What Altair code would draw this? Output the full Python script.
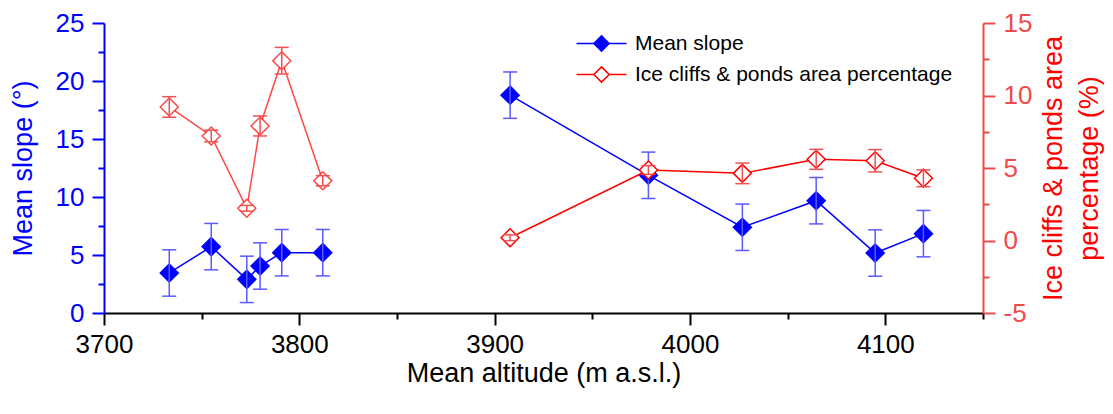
import altair as alt
import pandas as pd

# ---- data ----
altitude = [3733.4, 3754.9, 3773.1, 3779.9, 3791.0, 3812.0, 3907.9, 3978.7, 4026.8, 4064.6, 4094.8, 4119.5]
section = ["a", "a", "a", "a", "a", "a", "b", "b", "b", "b", "b", "b"]
mean_slope = [3.45, 5.72, 2.9, 4.05, 5.2, 5.2, 18.78, 11.87, 7.39, 9.68, 5.17, 6.84]
slope_err = [2.0, 2.0, 2.0, 2.0, 2.0, 2.0, 2.0, 2.0, 2.0, 2.0, 2.0, 2.0]
ice_pct = [9.21, 7.21, 2.22, 7.9, 12.4, 4.12, 0.19, 4.86, 4.63, 5.6, 5.5, 4.29]
ice_err = [0.71, 0.4, 0.2, 0.69, 0.92, 0.35, 0.2, 0.3, 0.71, 0.69, 0.77, 0.58]

S1 = "Mean slope"
S2 = "Ice cliffs & ponds area percentage"

rows = []
for i in range(len(altitude)):
    rows.append({"series": S1, "altitude": altitude[i], "value": mean_slope[i],
                 "lo": mean_slope[i] - slope_err[i], "hi": mean_slope[i] + slope_err[i],
                 "section": section[i]})
for i in range(len(altitude)):
    rows.append({"series": S2, "altitude": altitude[i], "value": ice_pct[i],
                 "lo": ice_pct[i] - ice_err[i], "hi": ice_pct[i] + ice_err[i],
                 "section": section[i]})
df = pd.DataFrame(rows)

FONT = "Liberation Sans"
BLUE = "#0000ff"
BLUE_ERR = "#5a5aff"
RED = "#ff0000"
RED_AX = "#f04a4a"
RED_ERR = "#f25050"

common = dict(labelFont=FONT, titleFont=FONT, titleFontSize=27,
              titleFontWeight="normal", domainWidth=2, tickWidth=2, grid=False,
              labelFlush=False, labelOverlap=False, labelBound=False)

x_axis = alt.Axis(
    title="Mean altitude (m a.s.l.)",
    values=list(range(3700, 4151, 50)),
    labelExpr="datum.value % 100 === 0 ? '' + datum.value : ''",
    tickSize={"condition": {"test": "datum.value % 100 === 0", "value": 12}, "value": 6},
    domainColor="black", tickColor="black", labelColor="black", titleColor="black",
    labelFontSize=26, labelPadding=6, titlePadding=3, **common,
)
x_enc = alt.X("altitude:Q", scale=alt.Scale(domain=[3700, 4150], nice=False, zero=False), axis=x_axis)

left_axis = alt.Axis(
    title="Mean slope (°)", orient="left",
    values=[0, 2.5, 5, 7.5, 10, 12.5, 15, 17.5, 20, 22.5, 25],
    labelExpr="datum.value % 5 === 0 ? '' + datum.value : ''",
    tickSize={"condition": {"test": "datum.value % 5 === 0", "value": 12}, "value": 6},
    domainColor=BLUE, tickColor=BLUE, labelColor=BLUE, titleColor=BLUE,
    labelFontSize=26, labelPadding=8, titlePadding=18, **common,
)
right_axis = alt.Axis(
    title=["Ice cliffs & ponds area", "percentage (%)"], orient="right",
    values=[-5, -2.5, 0, 2.5, 5, 7.5, 10, 12.5, 15],
    labelExpr="datum.value % 5 === 0 ? '' + datum.value : ''",
    tickSize={"condition": {"test": "datum.value % 5 === 0", "value": 12}, "value": 6},
    domainColor=RED_AX, tickColor=RED_AX, labelColor=RED_AX, titleColor=RED,
    labelFontSize=26, labelPadding=8, titlePadding=0, titleAngle=270, titleLineHeight=36, **common,
)

yL_scale = alt.Scale(domain=[0, 25], nice=False, zero=False)
yR_scale = alt.Scale(domain=[-5, 15], nice=False, zero=False)

DIAMOND_LEG = "M-2.78,0L-0.85,0M0.85,0L2.78,0M0,-0.85L0.85,0L0,0.85L-0.85,0Z"

legend = alt.Legend(
    title=None, orient="none", legendX=487, legendY=10,
    symbolType=DIAMOND_LEG, symbolSize=324, symbolStrokeWidth=1.5,
    labelFont=FONT, labelFontSize=21, labelColor="black", labelOffset=23,
    labelLimit=600, rowPadding=8, padding=0,
)
stroke_enc = alt.Stroke("series:N", scale=alt.Scale(domain=[S1, S2], range=[BLUE, RED]), legend=legend)
fill_enc = alt.Fill("series:N", scale=alt.Scale(domain=[S1, S2], range=[BLUE, "#ffffff"]), legend=legend)

def group(series, y_scale, axis, line_color, err_color, faded):
    base = alt.Chart(df).transform_filter(alt.datum.series == series)
    y = alt.Y("value:Q", scale=y_scale, axis=axis)
    y_lo = alt.Y("lo:Q", scale=y_scale, axis=axis)
    y_hi = alt.Y("hi:Q", scale=y_scale, axis=axis)
    sop = alt.condition(alt.datum.section == "a", alt.value(faded), alt.value(1.0))
    line = base.mark_line(color=line_color, strokeWidth=1.5).encode(
        x=x_enc, y=y, detail="section:N", strokeOpacity=sop)
    pts = base.mark_point(shape="diamond", size=324, strokeWidth=1.5, opacity=1).encode(
        x=x_enc, y=y, stroke=stroke_enc, fill=fill_enc, strokeOpacity=sop)
    err = base.mark_rule(color=err_color, strokeWidth=1.5).encode(x=x_enc, y=y_lo, y2="hi:Q")
    cap_hi = base.mark_rule(color=err_color, strokeWidth=1.5, xOffset=-7, x2Offset=7).encode(
        x=x_enc, x2="altitude:Q", y=y_hi)
    cap_lo = base.mark_rule(color=err_color, strokeWidth=1.5, xOffset=-7, x2Offset=7).encode(
        x=x_enc, x2="altitude:Q", y=y_lo)
    return alt.layer(line, pts, err, cap_hi, cap_lo)

blue = group(S1, yL_scale, left_axis, BLUE, BLUE_ERR, 1.0)
red = group(S2, yR_scale, right_axis, RED, RED_ERR, 0.72)

chart = alt.layer(blue, red).resolve_scale(y="independent").properties(
    width=879, height=290,
    autosize=alt.AutoSizeParams(type="none"),
    padding={"left": 96, "top": 15, "right": 122, "bottom": 85},
).configure_view(stroke=None)

chart.save("out.html", embed_options={"renderer": "svg", "actions": False})
